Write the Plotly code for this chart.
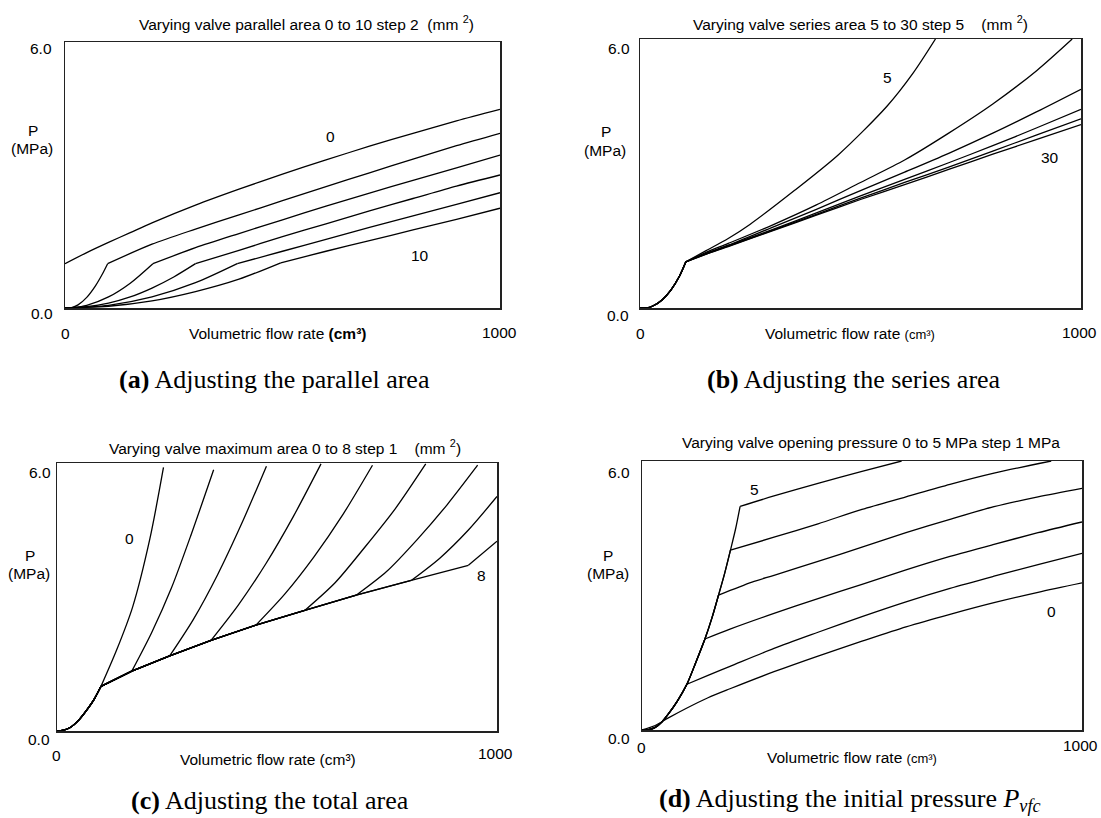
import plotly.graph_objects as go

# ---------------- data ----------------
# (a) varying parallel area 0..10 step 2
A_Q0 = [0, 50, 100, 150, 200, 300, 400, 500, 600, 700, 800, 900, 1000]
A_P0 = [1.0, 1.25, 1.48, 1.70, 1.92, 2.32, 2.68, 3.02, 3.34, 3.65, 3.94, 4.22, 4.48]
A_Q2 = [0, 15, 30, 50, 70, 85, 98, 200, 300, 400, 500, 600, 700, 800, 900, 1000]
A_P2 = [0, 0.01, 0.07, 0.24, 0.50, 0.75, 1.0, 1.44, 1.78, 2.10, 2.42, 2.74, 3.05, 3.36, 3.66, 3.94]
A_Q4 = [0, 20, 50, 100, 150, 202, 300, 400, 500, 600, 700, 800, 900, 1000]
A_P4 = [0, 0.01, 0.06, 0.25, 0.56, 1.0, 1.36, 1.68, 1.99, 2.30, 2.59, 2.88, 3.16, 3.45]
A_Q6 = [0, 50, 100, 150, 200, 250, 300, 400, 500, 600, 700, 800, 900, 1000]
A_P6 = [0, 0.03, 0.11, 0.25, 0.45, 0.70, 1.0, 1.30, 1.61, 1.90, 2.19, 2.47, 2.75, 3.00]
A_Q8 = [0, 100, 200, 300, 396, 500, 600, 700, 800, 900, 1000]
A_P8 = [0, 0.06, 0.25, 0.57, 1.0, 1.28, 1.55, 1.82, 2.08, 2.34, 2.60]
A_Q10 = [0, 100, 200, 300, 400, 496, 600, 700, 800, 900, 1000]
A_P10 = [0, 0.04, 0.16, 0.37, 0.65, 1.02, 1.28, 1.52, 1.76, 2.00, 2.25]
A_KINKS = [[], [98], [202], [300], [396], [496]]
A_LABELS = ["0", "10"]
A_LABEL_Q = [610, 815]
A_LABEL_P = [3.86, 1.18]

# (b) varying series area 5..30 step 5
B_PRE_Q = [0, 15, 30, 50, 70, 90, 104]
B_PRE_P = [0, 0.0, 0.05, 0.18, 0.40, 0.72, 1.03]
B_KINK = 104
B_POST_Q = [150, 200, 300, 400, 500, 600, 700, 800, 900, 1000]
B_P30 = [1.20, 1.37, 1.72, 2.07, 2.42, 2.75, 3.09, 3.43, 3.76, 4.09]
B_P25 = [1.20, 1.38, 1.73, 2.09, 2.45, 2.80, 3.14, 3.50, 3.86, 4.22]
B_P20 = [1.21, 1.39, 1.75, 2.12, 2.50, 2.87, 3.24, 3.62, 4.02, 4.43]
B_P15 = [1.22, 1.40, 1.80, 2.20, 2.62, 3.03, 3.45, 3.90, 4.38, 4.88]
B_Q10 = [150, 200, 300, 400, 500, 600, 700, 800, 900, 980]
B_P10 = [1.24, 1.44, 1.85, 2.30, 2.80, 3.30, 3.90, 4.55, 5.30, 6.00]
B_Q5 = [150, 200, 250, 350, 450, 560, 620, 670]
B_P5 = [1.28, 1.55, 1.87, 2.62, 3.42, 4.50, 5.25, 6.00]
B_LABELS = ["5", "30"]
B_LABEL_Q = [562, 930]
B_LABEL_P = [5.15, 3.36]

# (c) varying maximum area 0..8 step 1
C_PRE_Q = [0, 15, 30, 50, 70, 85, 100]
C_PRE_P = [0, 0.02, 0.08, 0.25, 0.50, 0.72, 1.0]
C_ENV_Q = [100, 170, 256, 350, 452, 563, 680, 805, 935]
C_ENV_P = [1.0, 1.34, 1.68, 2.03, 2.37, 2.70, 3.04, 3.37, 3.71]
C_BR_Q = [
    [100, 135, 172, 211, 242],
    [170, 215, 260, 305, 356],
    [256, 310, 365, 420, 476],
    [350, 412, 475, 537, 600],
    [452, 518, 584, 650, 717],
    [563, 632, 700, 769, 838],
    [680, 749, 818, 887, 956],
    [805, 870, 935, 1000],
    [935, 1000],
]
C_BR_P = [
    [1.0, 1.8, 2.78, 4.30, 5.90],
    [1.34, 2.2, 3.2, 4.4, 5.85],
    [1.68, 2.5, 3.5, 4.65, 5.93],
    [2.03, 2.82, 3.75, 4.8, 5.98],
    [2.37, 3.07, 3.9, 4.85, 5.95],
    [2.70, 3.32, 4.12, 4.98, 5.98],
    [3.04, 3.57, 4.28, 5.07, 5.95],
    [3.37, 3.87, 4.5, 5.25],
    [3.71, 4.25],
]
C_LABELS = ["0", "8"]
C_LABEL_Q = [165, 964]
C_LABEL_P = [4.3, 3.49]

# (d) varying opening pressure 0..5 MPa step 1
D_PRE_Q = [0, 12, 30, 45, 60, 80, 102, 122, 143, 159, 174, 188, 201, 213, 223]
D_PRE_P = [0, 0, 0.06, 0.18, 0.36, 0.64, 1.02, 1.5, 2.03, 2.5, 3.01, 3.5, 4.01, 4.5, 4.99]
D_KINK_IDX = [6, 8, 10, 12, 14]
D_Q0 = [0, 30, 60, 100, 150, 200, 300, 400, 500, 600, 700, 800, 900, 1000]
D_P0 = [0, 0.10, 0.27, 0.48, 0.72, 0.92, 1.30, 1.65, 1.98, 2.30, 2.58, 2.84, 3.07, 3.28]
D_POST_Q = [
    [150, 200, 300, 400, 500, 600, 700, 800, 900, 1000],
    [200, 300, 400, 500, 600, 700, 800, 900, 1000],
    [250, 300, 400, 500, 600, 700, 800, 900, 1000],
    [300, 400, 500, 600, 700, 800, 930],
    [300, 400, 500, 590],
]
D_POST_P = [
    [1.22, 1.42, 1.82, 2.18, 2.53, 2.86, 3.16, 3.43, 3.69, 3.94],
    [2.25, 2.60, 2.93, 3.25, 3.57, 3.87, 4.14, 4.40, 4.64],
    [3.30, 3.45, 3.76, 4.08, 4.40, 4.70, 4.98, 5.20, 5.39],
    [4.30, 4.60, 4.92, 5.20, 5.48, 5.73, 6.00],
    [5.22, 5.50, 5.77, 6.00],
]
D_LABELS = ["5", "0"]
D_LABEL_Q = [256, 930]
D_LABEL_P = [5.37, 2.65]

X_RANGE = [0, 1000]
Y_RANGE = [0, 6]

TITLES = [
    "Varying valve parallel area 0 to 10 step 2  (mm <sup>2</sup>)",
    "Varying valve series area 5 to 30 step 5    (mm <sup>2</sup>)",
    "Varying valve maximum area 0 to 8 step 1    (mm <sup>2</sup>)",
    "Varying valve opening pressure 0 to 5 MPa step 1 MPa",
]
XLABELS = [
    "Volumetric flow rate <b>(cm³)</b>",
    "Volumetric flow rate <span style='font-size:13px'>(cm³)</span>",
    "Volumetric flow rate (cm³)",
    "Volumetric flow rate <span style='font-size:13px'>(cm³)</span>",
]
CAPTIONS = [
    "<b>(a)</b> Adjusting the parallel area",
    "<b>(b)</b> Adjusting the series area",
    "<b>(c)</b> Adjusting the total area",
    "<b>(d)</b> Adjusting the initial pressure <i>P</i><sub><i>vfc</i></sub>",
]

# ---------------- layout geometry (pixels) ----------------
W, H = 1101, 818
BOXES = [  # left, right, top, bottom
    (65, 500, 42, 308),
    (640, 1081, 39, 308),
    (57, 497, 463, 731),
    (642, 1082, 461, 730),
]


def fx(x):
    return x / W


def fy(y):
    return 1 - y / H


fig = go.Figure()
LINE = dict(color="black", width=1.3, shape="spline", smoothing=0.8)


def add_piece(xs, ys, k):
    ax = "" if k == 0 else str(k + 1)
    fig.add_trace(go.Scatter(x=xs, y=ys, mode="lines", line=LINE,
                             xaxis="x" + ax, yaxis="y" + ax,
                             hoverinfo="skip", showlegend=False))


def add(xs, ys, k, kinks=()):
    """Draw a curve, split into smooth pieces at its kink points."""
    start = 0
    for i, q in enumerate(xs):
        if q in kinks and 0 < i < len(xs) - 1:
            add_piece(xs[start:i + 1], ys[start:i + 1], k)
            start = i
    add_piece(xs[start:], ys[start:], k)


# (a)
for (q, p), kk in zip([(A_Q0, A_P0), (A_Q2, A_P2), (A_Q4, A_P4), (A_Q6, A_P6),
                        (A_Q8, A_P8), (A_Q10, A_P10)], A_KINKS):
    add(q, p, 0, kk)
# (b)
for p in [B_P30, B_P25, B_P20, B_P15]:
    add(B_PRE_Q + B_POST_Q, B_PRE_P + p, 1, [B_KINK])
add(B_PRE_Q + B_Q10, B_PRE_P + B_P10, 1, [B_KINK])
add(B_PRE_Q + B_Q5, B_PRE_P + B_P5, 1, [B_KINK])
# (c)
for k in range(len(C_BR_Q)):
    q = C_PRE_Q + C_ENV_Q[1:k + 1] + C_BR_Q[k][1:]
    p = C_PRE_P + C_ENV_P[1:k + 1] + C_BR_P[k][1:]
    add(q, p, 2, C_ENV_Q[:k + 1])
# (d)
add(D_Q0, D_P0, 3)
for k in range(5):
    i = D_KINK_IDX[k]
    add(D_PRE_Q[:i + 1] + D_POST_Q[k], D_PRE_P[:i + 1] + D_POST_P[k], 3, [D_PRE_Q[i]])

layout = dict(
    width=W, height=H,
    margin=dict(l=0, r=0, t=0, b=0),
    paper_bgcolor="white", plot_bgcolor="white",
    showlegend=False,
    font=dict(family="Liberation Sans, Arial, sans-serif", color="black", size=15),
)

annotations = []
SANS = dict(family="Liberation Sans, Arial, sans-serif", size=15.5, color="black")
SERIF = dict(family="Liberation Serif, Times New Roman, serif", size=26, color="black")


def ann(text, x, y, font=SANS, xanchor="center", xref="paper", yref="paper"):
    annotations.append(dict(text=text, x=x, y=y, xref=xref, yref=yref,
                            showarrow=False, xanchor=xanchor, yanchor="middle",
                            font=font))


TITLE_POS = [(306, 23), (860, 23), (285, 447), (871, 442)]
XLAB_POS = [(277, 333), (850, 333), (268, 759), (852, 757)]
CAP_POS = [(274, 379), (854, 379), (270, 800), (850, 800)]
LABEL_SETS = [(A_LABELS, A_LABEL_Q, A_LABEL_P), (B_LABELS, B_LABEL_Q, B_LABEL_P),
              (C_LABELS, C_LABEL_Q, C_LABEL_P), (D_LABELS, D_LABEL_Q, D_LABEL_P)]
X0_POS = [(65, 333), (640, 333), (56, 755), (641, 747)]
X1_POS = [(499, 332), (1079, 332), (495, 753), (1080, 745)]
Y6_POS = [(54, 48), (632, 48), (53, 472), (632, 472)]
Y0_POS = [(55, 313), (631, 315), (52, 739), (632, 738)]
P_POS = [(33, 130), (606, 132), (30, 555), (608, 555)]
MPA_POS = [(32, 148), (605, 150), (29, 573), (608, 573)]

for k, (l, r, t, b) in enumerate(BOXES):
    ax = "" if k == 0 else str(k + 1)
    layout["xaxis" + ax] = dict(domain=[fx(l), fx(r)], range=X_RANGE, anchor="y" + ax,
                                showgrid=False, zeroline=False, showticklabels=False,
                                ticks="", showline=True, mirror=True,
                                linecolor="#222", linewidth=1.5, fixedrange=True)
    layout["yaxis" + ax] = dict(domain=[fy(b), fy(t)], range=Y_RANGE, anchor="x" + ax,
                                showgrid=False, zeroline=False, showticklabels=False,
                                ticks="", showline=True, mirror=True,
                                linecolor="#222", linewidth=1.5, fixedrange=True)
    ann(TITLES[k], fx(TITLE_POS[k][0]), fy(TITLE_POS[k][1]))
    ann(XLABELS[k], fx(XLAB_POS[k][0]), fy(XLAB_POS[k][1]))
    ann(CAPTIONS[k], fx(CAP_POS[k][0]), fy(CAP_POS[k][1]), font=SERIF)
    ann("0", fx(X0_POS[k][0]), fy(X0_POS[k][1]))
    ann("1000", fx(X1_POS[k][0]), fy(X1_POS[k][1]))
    ann("6.0", fx(Y6_POS[k][0]), fy(Y6_POS[k][1]), xanchor="right")
    ann("0.0", fx(Y0_POS[k][0]), fy(Y0_POS[k][1]), xanchor="right")
    ann("P", fx(P_POS[k][0]), fy(P_POS[k][1]))
    ann("(MPa)", fx(MPA_POS[k][0]), fy(MPA_POS[k][1]))
    labs, lq, lp = LABEL_SETS[k]
    for t_, q_, p_ in zip(labs, lq, lp):
        ann(t_, q_, p_, xref="x" + ax, yref="y" + ax)

layout["annotations"] = annotations
fig.update_layout(**layout)
fig.write_html("out.html",
               config={"displayModeBar": False, "staticPlot": True},
               post_script="document.body.style.margin='0';document.body.style.overflow='hidden';")
